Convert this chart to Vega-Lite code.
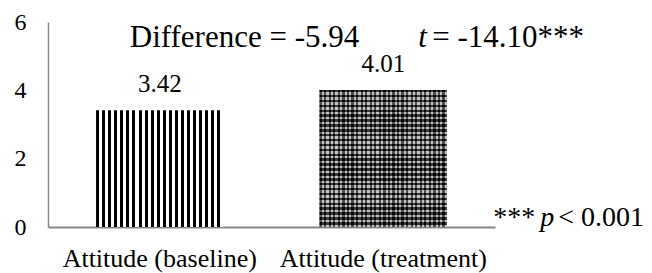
{
  "$schema": "https://vega.github.io/schema/vega-lite/v6.json",
  "width": 447,
  "height": 205,
  "autosize": {"type": "none"},
  "padding": {"left": 48, "top": 22, "right": 157, "bottom": 46},
  "background": "white",
  "config": {
    "view": {"stroke": null},
    "font": "Liberation Serif",
    "text": {"font": "Liberation Serif"},
    "axis": {"grid": false, "ticks": false, "domainColor": "#868686", "domainWidth": 1.5, "labelColor": "black", "labelFont": "Liberation Serif", "labelLimit": 0, "title": null}
  },
  "datasets": {
    "bars": [
      {"cond": "Attitude (baseline)", "value": 3.42},
      {"cond": "Attitude (treatment)", "value": 4.01}
    ],
    "notes": [
      {"cond": "Attitude (baseline)", "pos": 5.27, "part": "diff", "label": "Difference = -5.94"},
      {"cond": "Attitude (treatment)", "pos": 5.27, "part": "t", "label": "t"},
      {"cond": "Attitude (treatment)", "pos": 5.27, "part": "tval", "label": "= -14.10***"},
      {"cond": "Attitude (treatment)", "pos": 0.03, "part": "stars", "label": "***"},
      {"cond": "Attitude (treatment)", "pos": 0.03, "part": "p", "label": "p"},
      {"cond": "Attitude (treatment)", "pos": 0.03, "part": "pval", "label": "< 0.001"}
    ]
  },
  "encoding": {
    "x": {"field": "cond", "type": "nominal", "sort": null,
      "scale": {"paddingInner": 0, "paddingOuter": 0},
      "axis": {"labelAngle": 0, "labelFontSize": 26, "labelPadding": 18, "domainWidth": 2}},
    "y": {"field": "value", "type": "quantitative",
      "scale": {"domain": [0, 6], "nice": false},
      "axis": {"values": [0, 2, 4, 6], "labelFontSize": 24, "labelPadding": 22}}
  },
  "layer": [
    {
      "data": {"name": "bars"},
      "transform": [{"filter": "datum.cond === 'Attitude (baseline)'"}],
      "mark": {"type": "bar", "width": {"band": 0.57},
        "fill": {"gradient": "linear", "x1": 0, "y1": 0, "x2": 1, "y2": 0, "stops": [
          {"offset": 0, "color": "black"}, {"offset": 0.02381, "color": "black"}, {"offset": 0.02381, "color": "white"}, {"offset": 0.04762, "color": "white"},
          {"offset": 0.04762, "color": "black"}, {"offset": 0.07143, "color": "black"}, {"offset": 0.07143, "color": "white"}, {"offset": 0.09524, "color": "white"},
          {"offset": 0.09524, "color": "black"}, {"offset": 0.11905, "color": "black"}, {"offset": 0.11905, "color": "white"}, {"offset": 0.14286, "color": "white"},
          {"offset": 0.14286, "color": "black"}, {"offset": 0.16667, "color": "black"}, {"offset": 0.16667, "color": "white"}, {"offset": 0.19048, "color": "white"},
          {"offset": 0.19048, "color": "black"}, {"offset": 0.21429, "color": "black"}, {"offset": 0.21429, "color": "white"}, {"offset": 0.2381, "color": "white"},
          {"offset": 0.2381, "color": "black"}, {"offset": 0.2619, "color": "black"}, {"offset": 0.2619, "color": "white"}, {"offset": 0.28571, "color": "white"},
          {"offset": 0.28571, "color": "black"}, {"offset": 0.30952, "color": "black"}, {"offset": 0.30952, "color": "white"}, {"offset": 0.33333, "color": "white"},
          {"offset": 0.33333, "color": "black"}, {"offset": 0.35714, "color": "black"}, {"offset": 0.35714, "color": "white"}, {"offset": 0.38095, "color": "white"},
          {"offset": 0.38095, "color": "black"}, {"offset": 0.40476, "color": "black"}, {"offset": 0.40476, "color": "white"}, {"offset": 0.42857, "color": "white"},
          {"offset": 0.42857, "color": "black"}, {"offset": 0.45238, "color": "black"}, {"offset": 0.45238, "color": "white"}, {"offset": 0.47619, "color": "white"},
          {"offset": 0.47619, "color": "black"}, {"offset": 0.5, "color": "black"}, {"offset": 0.5, "color": "white"}, {"offset": 0.52381, "color": "white"},
          {"offset": 0.52381, "color": "black"}, {"offset": 0.54762, "color": "black"}, {"offset": 0.54762, "color": "white"}, {"offset": 0.57143, "color": "white"},
          {"offset": 0.57143, "color": "black"}, {"offset": 0.59524, "color": "black"}, {"offset": 0.59524, "color": "white"}, {"offset": 0.61905, "color": "white"},
          {"offset": 0.61905, "color": "black"}, {"offset": 0.64286, "color": "black"}, {"offset": 0.64286, "color": "white"}, {"offset": 0.66667, "color": "white"},
          {"offset": 0.66667, "color": "black"}, {"offset": 0.69048, "color": "black"}, {"offset": 0.69048, "color": "white"}, {"offset": 0.71429, "color": "white"},
          {"offset": 0.71429, "color": "black"}, {"offset": 0.7381, "color": "black"}, {"offset": 0.7381, "color": "white"}, {"offset": 0.7619, "color": "white"},
          {"offset": 0.7619, "color": "black"}, {"offset": 0.78571, "color": "black"}, {"offset": 0.78571, "color": "white"}, {"offset": 0.80952, "color": "white"},
          {"offset": 0.80952, "color": "black"}, {"offset": 0.83333, "color": "black"}, {"offset": 0.83333, "color": "white"}, {"offset": 0.85714, "color": "white"},
          {"offset": 0.85714, "color": "black"}, {"offset": 0.88095, "color": "black"}, {"offset": 0.88095, "color": "white"}, {"offset": 0.90476, "color": "white"},
          {"offset": 0.90476, "color": "black"}, {"offset": 0.92857, "color": "black"}, {"offset": 0.92857, "color": "white"}, {"offset": 0.95238, "color": "white"},
          {"offset": 0.95238, "color": "black"}, {"offset": 0.97619, "color": "black"}, {"offset": 0.97619, "color": "white"}, {"offset": 1, "color": "white"}
        ]}}
    },
    {
      "data": {"name": "bars"},
      "transform": [{"filter": "datum.cond === 'Attitude (treatment)'"}],
      "mark": {"type": "bar", "width": {"band": 0.57},
        "fill": {"gradient": "linear", "x1": 0, "y1": 0, "x2": 1, "y2": 0, "stops": [
          {"offset": 0, "color": "#000"}, {"offset": 0.01786, "color": "#000"}, {"offset": 0.01786, "color": "#a8a8a8"}, {"offset": 0.03571, "color": "#a8a8a8"},
          {"offset": 0.03571, "color": "#000"}, {"offset": 0.05357, "color": "#000"}, {"offset": 0.05357, "color": "#a8a8a8"}, {"offset": 0.07143, "color": "#a8a8a8"},
          {"offset": 0.07143, "color": "#000"}, {"offset": 0.08929, "color": "#000"}, {"offset": 0.08929, "color": "#a8a8a8"}, {"offset": 0.10714, "color": "#a8a8a8"},
          {"offset": 0.10714, "color": "#000"}, {"offset": 0.125, "color": "#000"}, {"offset": 0.125, "color": "#a8a8a8"}, {"offset": 0.14286, "color": "#a8a8a8"},
          {"offset": 0.14286, "color": "#000"}, {"offset": 0.16071, "color": "#000"}, {"offset": 0.16071, "color": "#a8a8a8"}, {"offset": 0.17857, "color": "#a8a8a8"},
          {"offset": 0.17857, "color": "#000"}, {"offset": 0.19643, "color": "#000"}, {"offset": 0.19643, "color": "#a8a8a8"}, {"offset": 0.21429, "color": "#a8a8a8"},
          {"offset": 0.21429, "color": "#000"}, {"offset": 0.23214, "color": "#000"}, {"offset": 0.23214, "color": "#a8a8a8"}, {"offset": 0.25, "color": "#a8a8a8"},
          {"offset": 0.25, "color": "#000"}, {"offset": 0.26786, "color": "#000"}, {"offset": 0.26786, "color": "#a8a8a8"}, {"offset": 0.28571, "color": "#a8a8a8"},
          {"offset": 0.28571, "color": "#000"}, {"offset": 0.30357, "color": "#000"}, {"offset": 0.30357, "color": "#a8a8a8"}, {"offset": 0.32143, "color": "#a8a8a8"},
          {"offset": 0.32143, "color": "#000"}, {"offset": 0.33929, "color": "#000"}, {"offset": 0.33929, "color": "#a8a8a8"}, {"offset": 0.35714, "color": "#a8a8a8"},
          {"offset": 0.35714, "color": "#000"}, {"offset": 0.375, "color": "#000"}, {"offset": 0.375, "color": "#a8a8a8"}, {"offset": 0.39286, "color": "#a8a8a8"},
          {"offset": 0.39286, "color": "#000"}, {"offset": 0.41071, "color": "#000"}, {"offset": 0.41071, "color": "#a8a8a8"}, {"offset": 0.42857, "color": "#a8a8a8"},
          {"offset": 0.42857, "color": "#000"}, {"offset": 0.44643, "color": "#000"}, {"offset": 0.44643, "color": "#a8a8a8"}, {"offset": 0.46429, "color": "#a8a8a8"},
          {"offset": 0.46429, "color": "#000"}, {"offset": 0.48214, "color": "#000"}, {"offset": 0.48214, "color": "#a8a8a8"}, {"offset": 0.5, "color": "#a8a8a8"},
          {"offset": 0.5, "color": "#000"}, {"offset": 0.51786, "color": "#000"}, {"offset": 0.51786, "color": "#a8a8a8"}, {"offset": 0.53571, "color": "#a8a8a8"},
          {"offset": 0.53571, "color": "#000"}, {"offset": 0.55357, "color": "#000"}, {"offset": 0.55357, "color": "#a8a8a8"}, {"offset": 0.57143, "color": "#a8a8a8"},
          {"offset": 0.57143, "color": "#000"}, {"offset": 0.58929, "color": "#000"}, {"offset": 0.58929, "color": "#a8a8a8"}, {"offset": 0.60714, "color": "#a8a8a8"},
          {"offset": 0.60714, "color": "#000"}, {"offset": 0.625, "color": "#000"}, {"offset": 0.625, "color": "#a8a8a8"}, {"offset": 0.64286, "color": "#a8a8a8"},
          {"offset": 0.64286, "color": "#000"}, {"offset": 0.66071, "color": "#000"}, {"offset": 0.66071, "color": "#a8a8a8"}, {"offset": 0.67857, "color": "#a8a8a8"},
          {"offset": 0.67857, "color": "#000"}, {"offset": 0.69643, "color": "#000"}, {"offset": 0.69643, "color": "#a8a8a8"}, {"offset": 0.71429, "color": "#a8a8a8"},
          {"offset": 0.71429, "color": "#000"}, {"offset": 0.73214, "color": "#000"}, {"offset": 0.73214, "color": "#a8a8a8"}, {"offset": 0.75, "color": "#a8a8a8"},
          {"offset": 0.75, "color": "#000"}, {"offset": 0.76786, "color": "#000"}, {"offset": 0.76786, "color": "#a8a8a8"}, {"offset": 0.78571, "color": "#a8a8a8"},
          {"offset": 0.78571, "color": "#000"}, {"offset": 0.80357, "color": "#000"}, {"offset": 0.80357, "color": "#a8a8a8"}, {"offset": 0.82143, "color": "#a8a8a8"},
          {"offset": 0.82143, "color": "#000"}, {"offset": 0.83929, "color": "#000"}, {"offset": 0.83929, "color": "#a8a8a8"}, {"offset": 0.85714, "color": "#a8a8a8"},
          {"offset": 0.85714, "color": "#000"}, {"offset": 0.875, "color": "#000"}, {"offset": 0.875, "color": "#a8a8a8"}, {"offset": 0.89286, "color": "#a8a8a8"},
          {"offset": 0.89286, "color": "#000"}, {"offset": 0.91071, "color": "#000"}, {"offset": 0.91071, "color": "#a8a8a8"}, {"offset": 0.92857, "color": "#a8a8a8"},
          {"offset": 0.92857, "color": "#000"}, {"offset": 0.94643, "color": "#000"}, {"offset": 0.94643, "color": "#a8a8a8"}, {"offset": 0.96429, "color": "#a8a8a8"},
          {"offset": 0.96429, "color": "#000"}, {"offset": 0.98214, "color": "#000"}, {"offset": 0.98214, "color": "#a8a8a8"}, {"offset": 1, "color": "#a8a8a8"}
        ]}}
    },
    {
      "data": {"name": "bars"},
      "transform": [{"filter": "datum.cond === 'Attitude (treatment)'"}],
      "mark": {"type": "bar", "width": {"band": 0.57},
        "fill": {"gradient": "linear", "x1": 0, "y1": 0, "x2": 0, "y2": 1, "stops": [
          {"offset": 0, "color": "rgba(0,0,0,0.65)"}, {"offset": 0.01786, "color": "rgba(0,0,0,0.65)"}, {"offset": 0.01786, "color": "rgba(255,255,255,0.3)"}, {"offset": 0.03571, "color": "rgba(255,255,255,0.3)"},
          {"offset": 0.03571, "color": "rgba(0,0,0,0.65)"}, {"offset": 0.05357, "color": "rgba(0,0,0,0.65)"}, {"offset": 0.05357, "color": "rgba(255,255,255,0.3)"}, {"offset": 0.07143, "color": "rgba(255,255,255,0.3)"},
          {"offset": 0.07143, "color": "rgba(0,0,0,0.65)"}, {"offset": 0.08929, "color": "rgba(0,0,0,0.65)"}, {"offset": 0.08929, "color": "rgba(255,255,255,0.3)"}, {"offset": 0.10714, "color": "rgba(255,255,255,0.3)"},
          {"offset": 0.10714, "color": "rgba(0,0,0,0.65)"}, {"offset": 0.125, "color": "rgba(0,0,0,0.65)"}, {"offset": 0.125, "color": "rgba(255,255,255,0.3)"}, {"offset": 0.14286, "color": "rgba(255,255,255,0.3)"},
          {"offset": 0.14286, "color": "rgba(0,0,0,0.65)"}, {"offset": 0.16071, "color": "rgba(0,0,0,0.65)"}, {"offset": 0.16071, "color": "rgba(255,255,255,0.3)"}, {"offset": 0.17857, "color": "rgba(255,255,255,0.3)"},
          {"offset": 0.17857, "color": "rgba(0,0,0,0.65)"}, {"offset": 0.19643, "color": "rgba(0,0,0,0.65)"}, {"offset": 0.19643, "color": "rgba(255,255,255,0.3)"}, {"offset": 0.21429, "color": "rgba(255,255,255,0.3)"},
          {"offset": 0.21429, "color": "rgba(0,0,0,0.65)"}, {"offset": 0.23214, "color": "rgba(0,0,0,0.65)"}, {"offset": 0.23214, "color": "rgba(255,255,255,0.3)"}, {"offset": 0.25, "color": "rgba(255,255,255,0.3)"},
          {"offset": 0.25, "color": "rgba(0,0,0,0.65)"}, {"offset": 0.26786, "color": "rgba(0,0,0,0.65)"}, {"offset": 0.26786, "color": "rgba(255,255,255,0.3)"}, {"offset": 0.28571, "color": "rgba(255,255,255,0.3)"},
          {"offset": 0.28571, "color": "rgba(0,0,0,0.65)"}, {"offset": 0.30357, "color": "rgba(0,0,0,0.65)"}, {"offset": 0.30357, "color": "rgba(255,255,255,0.3)"}, {"offset": 0.32143, "color": "rgba(255,255,255,0.3)"},
          {"offset": 0.32143, "color": "rgba(0,0,0,0.65)"}, {"offset": 0.33929, "color": "rgba(0,0,0,0.65)"}, {"offset": 0.33929, "color": "rgba(255,255,255,0.3)"}, {"offset": 0.35714, "color": "rgba(255,255,255,0.3)"},
          {"offset": 0.35714, "color": "rgba(0,0,0,0.65)"}, {"offset": 0.375, "color": "rgba(0,0,0,0.65)"}, {"offset": 0.375, "color": "rgba(255,255,255,0.3)"}, {"offset": 0.39286, "color": "rgba(255,255,255,0.3)"},
          {"offset": 0.39286, "color": "rgba(0,0,0,0.65)"}, {"offset": 0.41071, "color": "rgba(0,0,0,0.65)"}, {"offset": 0.41071, "color": "rgba(255,255,255,0.3)"}, {"offset": 0.42857, "color": "rgba(255,255,255,0.3)"},
          {"offset": 0.42857, "color": "rgba(0,0,0,0.65)"}, {"offset": 0.44643, "color": "rgba(0,0,0,0.65)"}, {"offset": 0.44643, "color": "rgba(255,255,255,0.3)"}, {"offset": 0.46429, "color": "rgba(255,255,255,0.3)"},
          {"offset": 0.46429, "color": "rgba(0,0,0,0.65)"}, {"offset": 0.48214, "color": "rgba(0,0,0,0.65)"}, {"offset": 0.48214, "color": "rgba(255,255,255,0.3)"}, {"offset": 0.5, "color": "rgba(255,255,255,0.3)"},
          {"offset": 0.5, "color": "rgba(0,0,0,0.65)"}, {"offset": 0.51786, "color": "rgba(0,0,0,0.65)"}, {"offset": 0.51786, "color": "rgba(255,255,255,0.3)"}, {"offset": 0.53571, "color": "rgba(255,255,255,0.3)"},
          {"offset": 0.53571, "color": "rgba(0,0,0,0.65)"}, {"offset": 0.55357, "color": "rgba(0,0,0,0.65)"}, {"offset": 0.55357, "color": "rgba(255,255,255,0.3)"}, {"offset": 0.57143, "color": "rgba(255,255,255,0.3)"},
          {"offset": 0.57143, "color": "rgba(0,0,0,0.65)"}, {"offset": 0.58929, "color": "rgba(0,0,0,0.65)"}, {"offset": 0.58929, "color": "rgba(255,255,255,0.3)"}, {"offset": 0.60714, "color": "rgba(255,255,255,0.3)"},
          {"offset": 0.60714, "color": "rgba(0,0,0,0.65)"}, {"offset": 0.625, "color": "rgba(0,0,0,0.65)"}, {"offset": 0.625, "color": "rgba(255,255,255,0.3)"}, {"offset": 0.64286, "color": "rgba(255,255,255,0.3)"},
          {"offset": 0.64286, "color": "rgba(0,0,0,0.65)"}, {"offset": 0.66071, "color": "rgba(0,0,0,0.65)"}, {"offset": 0.66071, "color": "rgba(255,255,255,0.3)"}, {"offset": 0.67857, "color": "rgba(255,255,255,0.3)"},
          {"offset": 0.67857, "color": "rgba(0,0,0,0.65)"}, {"offset": 0.69643, "color": "rgba(0,0,0,0.65)"}, {"offset": 0.69643, "color": "rgba(255,255,255,0.3)"}, {"offset": 0.71429, "color": "rgba(255,255,255,0.3)"},
          {"offset": 0.71429, "color": "rgba(0,0,0,0.65)"}, {"offset": 0.73214, "color": "rgba(0,0,0,0.65)"}, {"offset": 0.73214, "color": "rgba(255,255,255,0.3)"}, {"offset": 0.75, "color": "rgba(255,255,255,0.3)"},
          {"offset": 0.75, "color": "rgba(0,0,0,0.65)"}, {"offset": 0.76786, "color": "rgba(0,0,0,0.65)"}, {"offset": 0.76786, "color": "rgba(255,255,255,0.3)"}, {"offset": 0.78571, "color": "rgba(255,255,255,0.3)"},
          {"offset": 0.78571, "color": "rgba(0,0,0,0.65)"}, {"offset": 0.80357, "color": "rgba(0,0,0,0.65)"}, {"offset": 0.80357, "color": "rgba(255,255,255,0.3)"}, {"offset": 0.82143, "color": "rgba(255,255,255,0.3)"},
          {"offset": 0.82143, "color": "rgba(0,0,0,0.65)"}, {"offset": 0.83929, "color": "rgba(0,0,0,0.65)"}, {"offset": 0.83929, "color": "rgba(255,255,255,0.3)"}, {"offset": 0.85714, "color": "rgba(255,255,255,0.3)"},
          {"offset": 0.85714, "color": "rgba(0,0,0,0.65)"}, {"offset": 0.875, "color": "rgba(0,0,0,0.65)"}, {"offset": 0.875, "color": "rgba(255,255,255,0.3)"}, {"offset": 0.89286, "color": "rgba(255,255,255,0.3)"},
          {"offset": 0.89286, "color": "rgba(0,0,0,0.65)"}, {"offset": 0.91071, "color": "rgba(0,0,0,0.65)"}, {"offset": 0.91071, "color": "rgba(255,255,255,0.3)"}, {"offset": 0.92857, "color": "rgba(255,255,255,0.3)"},
          {"offset": 0.92857, "color": "rgba(0,0,0,0.65)"}, {"offset": 0.94643, "color": "rgba(0,0,0,0.65)"}, {"offset": 0.94643, "color": "rgba(255,255,255,0.3)"}, {"offset": 0.96429, "color": "rgba(255,255,255,0.3)"},
          {"offset": 0.96429, "color": "rgba(0,0,0,0.65)"}, {"offset": 0.98214, "color": "rgba(0,0,0,0.65)"}, {"offset": 0.98214, "color": "rgba(255,255,255,0.3)"}, {"offset": 1, "color": "rgba(255,255,255,0.3)"}
        ]}}
    },
    {
      "data": {"name": "bars"},
      "mark": {"type": "text", "baseline": "alphabetic", "dy": -18, "fontSize": 25, "color": "black"},
      "encoding": {"text": {"field": "value", "type": "quantitative", "format": ".2f"}}
    },
    {
      "data": {"name": "notes"},
      "transform": [{"filter": "datum.part === 'diff'"}],
      "mark": {"type": "text", "align": "left", "baseline": "alphabetic", "dx": -30, "fontSize": 31, "color": "black"},
      "encoding": {"y": {"field": "pos", "type": "quantitative"}, "text": {"field": "label"}}
    },
    {
      "data": {"name": "notes"},
      "transform": [{"filter": "datum.part === 't'"}],
      "mark": {"type": "text", "align": "left", "baseline": "alphabetic", "dx": 35, "fontSize": 31, "fontStyle": "italic", "color": "black"},
      "encoding": {"y": {"field": "pos", "type": "quantitative"}, "text": {"field": "label"}}
    },
    {
      "data": {"name": "notes"},
      "transform": [{"filter": "datum.part === 'tval'"}],
      "mark": {"type": "text", "align": "left", "baseline": "alphabetic", "dx": 49, "fontSize": 31, "color": "black"},
      "encoding": {"y": {"field": "pos", "type": "quantitative"}, "text": {"field": "label"}}
    },
    {
      "data": {"name": "notes"},
      "transform": [{"filter": "datum.part === 'stars'"}],
      "mark": {"type": "text", "align": "left", "baseline": "alphabetic", "dx": 110, "fontSize": 28, "color": "black"},
      "encoding": {"y": {"field": "pos", "type": "quantitative"}, "text": {"field": "label"}}
    },
    {
      "data": {"name": "notes"},
      "transform": [{"filter": "datum.part === 'p'"}],
      "mark": {"type": "text", "align": "left", "baseline": "alphabetic", "dx": 157, "fontSize": 28, "fontStyle": "italic", "color": "black"},
      "encoding": {"y": {"field": "pos", "type": "quantitative"}, "text": {"field": "label"}}
    },
    {
      "data": {"name": "notes"},
      "transform": [{"filter": "datum.part === 'pval'"}],
      "mark": {"type": "text", "align": "left", "baseline": "alphabetic", "dx": 175, "fontSize": 28, "color": "black"},
      "encoding": {"y": {"field": "pos", "type": "quantitative"}, "text": {"field": "label"}}
    }
  ]
}
